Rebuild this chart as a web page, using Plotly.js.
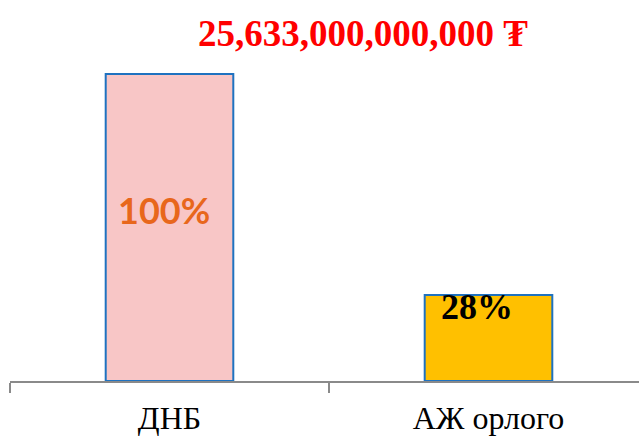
<!DOCTYPE html>
<html>
<head>
<meta charset="utf-8">
<script src="https://cdn.plot.ly/plotly-3.0.1.min.js"></script>
<style>html,body{margin:0;padding:0;background:#fff;}#chart{width:639px;height:437px;}</style>
</head>
<body>
<div id="chart"></div>
<script>
const categories = ['ДНБ', 'АЖ орлого'];
const values = [100, 28];
const valueLabels = ['100%', '28%'];
const totalLabel = '25,633,000,000,000 ₮';

const SERIF = 'Liberation Serif, DejaVu Serif, serif';

const trace = {
  type: 'bar',
  x: categories,
  y: values,
  width: 0.4,
  marker: {
    color: ['#F8C6C6', '#FFC000'],
    line: {color: '#1F72C0', width: 2}
  },
  hoverinfo: 'skip'
};

const labelFonts = [
  {family: 'Lato, Open Sans, sans-serif', size: 36, color: '#E8671C', weight: 'bold'},
  {family: SERIF, size: 36, color: '#000000', weight: 'bold'}
];
const labelShifts = [[-6, -136], [-12, -12]];

const annotations = categories.map((c, i) => ({
  x: c, y: values[i], xref: 'x', yref: 'y',
  text: '<b>' + valueLabels[i] + '</b>',
  showarrow: false,
  xanchor: 'center', yanchor: 'middle',
  xshift: labelShifts[i][0], yshift: labelShifts[i][1],
  font: labelFonts[i]
}));

const layout = {
  width: 639, height: 437,
  margin: {l: 10, r: 0, t: 40, b: 56},
  paper_bgcolor: '#ffffff', plot_bgcolor: '#ffffff',
  showlegend: false,
  title: {
    text: '<b>' + totalLabel + '</b>',
    font: {family: SERIF, size: 37, color: '#FF0000'},
    xref: 'paper', x: 0.561, xanchor: 'center',
    yref: 'container', y: 0.924, yanchor: 'middle'
  },
  xaxis: {
    type: 'category',
    range: [-0.5, 1.4718],
    showline: true, linecolor: '#8A8A8A', linewidth: 1.5,
    ticks: 'outside', ticklen: 10, tickcolor: '#8A8A8A', tickwidth: 1.5,
    tickson: 'boundaries',
    showgrid: false, zeroline: false,
    tickfont: {family: SERIF, size: 32, color: '#000000'},
    ticklabelstandoff: 8
  },
  yaxis: {
    range: [0, 111.07],
    visible: false, showgrid: false, zeroline: false
  },
  annotations: annotations
};

Plotly.newPlot('chart', [trace], layout, {displayModeBar: false, staticPlot: true});
</script>
</body>
</html>
